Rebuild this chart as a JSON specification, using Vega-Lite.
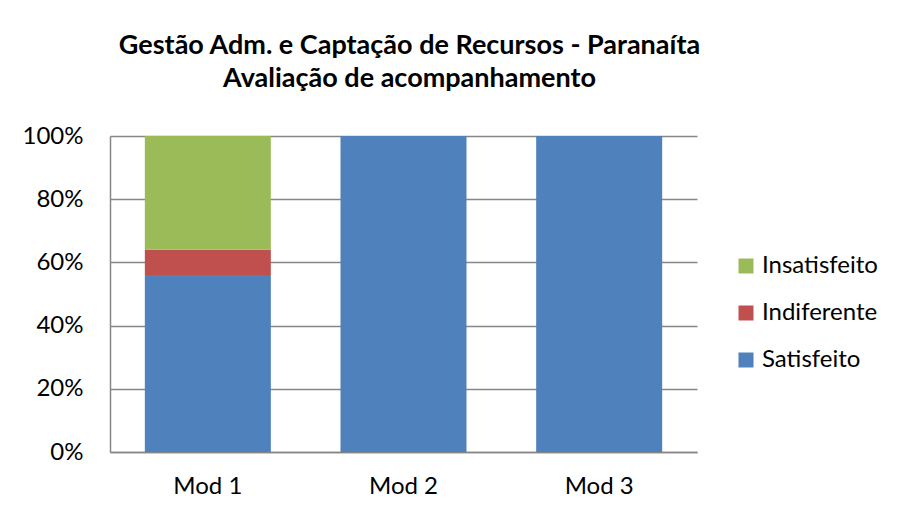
{
  "$schema": "https://vega.github.io/schema/vega-lite/v6.json",
  "width": 587,
  "height": 316,
  "autosize": "none",
  "padding": {"left": 110, "top": 136, "right": 200, "bottom": 61},
  "background": "white",
  "title": {
    "text": ["Gestão Adm. e Captação de Recursos - Paranaíta", "Avaliação de acompanhamento"],
    "font": "Lato",
    "fontSize": 27,
    "fontWeight": "bold",
    "color": "#000000",
    "anchor": "middle",
    "frame": "group",
    "lineHeight": 33,
    "offset": 31,
    "dx": 6
  },
  "data": {
    "values": [
      {"modulo": "Mod 1", "avaliacao": "Satisfeito", "valor": 56, "ordem": 1},
      {"modulo": "Mod 1", "avaliacao": "Indiferente", "valor": 8, "ordem": 2},
      {"modulo": "Mod 1", "avaliacao": "Insatisfeito", "valor": 36, "ordem": 3},
      {"modulo": "Mod 2", "avaliacao": "Satisfeito", "valor": 100, "ordem": 1},
      {"modulo": "Mod 3", "avaliacao": "Satisfeito", "valor": 100, "ordem": 1}
    ]
  },
  "mark": {"type": "bar"},
  "encoding": {
    "x": {
      "field": "modulo",
      "type": "nominal",
      "scale": {"paddingInner": 0.356, "paddingOuter": 0.178},
      "axis": {
        "title": null,
        "labelAngle": 0,
        "labelFont": "Lato",
        "labelFontSize": 24,
        "labelColor": "#000000",
        "labelPadding": 22,
        "ticks": false,
        "domainColor": "#868686",
        "domainWidth": 1.5
      }
    },
    "y": {
      "field": "valor",
      "type": "quantitative",
      "stack": "normalize",
      "scale": {"domain": [0, 1]},
      "axis": {
        "title": null,
        "values": [0, 0.2, 0.4, 0.6, 0.8, 1],
        "format": ".0%",
        "labelFont": "Lato",
        "labelFontSize": 24,
        "labelColor": "#000000",
        "labelPadding": 27,
        "ticks": false,
        "grid": true,
        "gridColor": "#868686",
        "gridWidth": 1.5,
        "domainColor": "#868686",
        "domainWidth": 1.5
      }
    },
    "color": {
      "field": "avaliacao",
      "type": "nominal",
      "scale": {
        "domain": ["Insatisfeito", "Indiferente", "Satisfeito"],
        "range": ["#9BBB59", "#C0504D", "#4F81BD"]
      },
      "legend": {
        "title": null,
        "orient": "none",
        "legendX": 624,
        "legendY": 118,
        "symbolType": "square",
        "symbolSize": 225,
        "symbolStrokeWidth": 0,
        "labelFont": "Lato",
        "labelFontSize": 24,
        "labelColor": "#000000",
        "labelOffset": 4,
        "rowPadding": 23,
        "padding": 0
      }
    },
    "order": {"field": "ordem", "type": "quantitative", "sort": "ascending"}
  },
  "config": {
    "view": {"stroke": null},
    "axis": {"gridDash": []}
  }
}
